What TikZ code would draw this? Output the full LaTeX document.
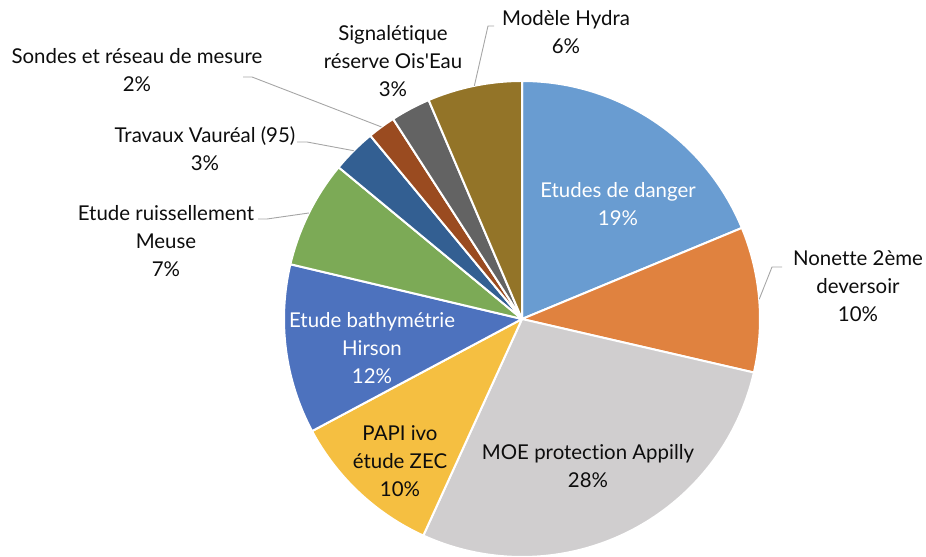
\documentclass[tikz,border=0pt]{standalone}
\usepackage{fontspec}
\setmainfont{Lato}[Ligatures={TeX,NoCommon}]
\usetikzlibrary{calc}

\definecolor{cDanger}{HTML}{699CD1}
\definecolor{cNonette}{HTML}{E0823F}
\definecolor{cMoe}{HTML}{D0CECF}
\definecolor{cPapi}{HTML}{F5BF41}
\definecolor{cBathy}{HTML}{4D72BE}
\definecolor{cRuiss}{HTML}{7CAA56}
\definecolor{cVaureal}{HTML}{335F92}
\definecolor{cSondes}{HTML}{9A4B20}
\definecolor{cSignal}{HTML}{636363}
\definecolor{cHydra}{HTML}{937428}
\definecolor{cLeader}{HTML}{A6A6A6}

\begin{document}
\begin{tikzpicture}[x=1bp, y=1bp,
  every node/.style={font=\fontsize{20.5}{28}\selectfont, align=center, text=black!95},
  slice/.style={draw=white, line width=2bp, line join=round},
  leader/.style={draw=cLeader, line width=0.9bp}
]
  \useasboundingbox (0,0) rectangle (926,557);
  \coordinate (C) at (522,238);
  \def\R{238}

  % slices, clockwise from the top
  \foreach \nm/\angA/\angB/\col in {
      danger/90/22.5/cDanger, nonette/22.5/-13/cNonette,
      moe/-13/-114.5/cMoe, papi/-114.5/-151.9/cPapi,
      bathy/-151.9/-193.3/cBathy, ruiss/-193.3/-219.6/cRuiss,
      vaureal/-219.6/-230.4/cVaureal, sondes/-230.4/-237.2/cSondes,
      signal/-237.2/-246.9/cSignal, hydra/-246.9/-270/cHydra}{
    \filldraw[slice, fill=\col] (C) -- ($(C)+(\angA:\R)$)
      arc[start angle=\angA, end angle=\angB, radius=\R] -- cycle;
    \pgfmathsetmacro{\midang}{(\angA+\angB)/2}
    \coordinate (edge-\nm) at ($(C)+(\midang:\R)$);
  }

  % labels inside the pie
  \node[text=white] (danger) at (618,353) {Etudes de danger\\19\%};
  \node (moe) at (588,91) {MOE protection Appilly\\28\%};
  \node (papi) at (400,96) {PAPI ivo\\étude ZEC\\10\%};
  \node[text=white] (bathy) at (372,209) {Etude bathymétrie\\Hirson\\12\%};

  % labels outside the pie
  \node (nonette) at (858,271) {Nonette 2ème\\deversoir\\10\%};
  \node (ruiss) at (166,316) {Etude ruissellement\\Meuse\\7\%};
  \node (vaureal) at (205,408) {Travaux Vauréal (95)\\3\%};
  \node (sondes) at (137,487) {Sondes et réseau de mesure\\2\%};
  \node (signal) at (393,496) {Signalétique\\réserve Ois\textquotesingle Eau\\3\%};
  \node (hydra) at (566,525) {Modèle Hydra\\6\%};

  % leader lines
  \coordinate (nonette-k) at (772,290);
  \coordinate (nonette-e) at (782,290);
  \coordinate (ruiss-k) at (267,338);
  \coordinate (ruiss-e) at (258,338);
  \coordinate (vaureal-k) at (307,415);
  \coordinate (vaureal-e) at (297,415);
  \coordinate (sondes-k) at (252,480);
  \coordinate (sondes-e) at (243,480);
  \coordinate (hydra-k) at (488,531);
  \coordinate (hydra-e) at (494,531);
  \foreach \nm in {nonette, ruiss, vaureal, sondes, hydra}
    \draw[leader] (edge-\nm) -- (\nm-k) -- (\nm-e);
\end{tikzpicture}
\end{document}
